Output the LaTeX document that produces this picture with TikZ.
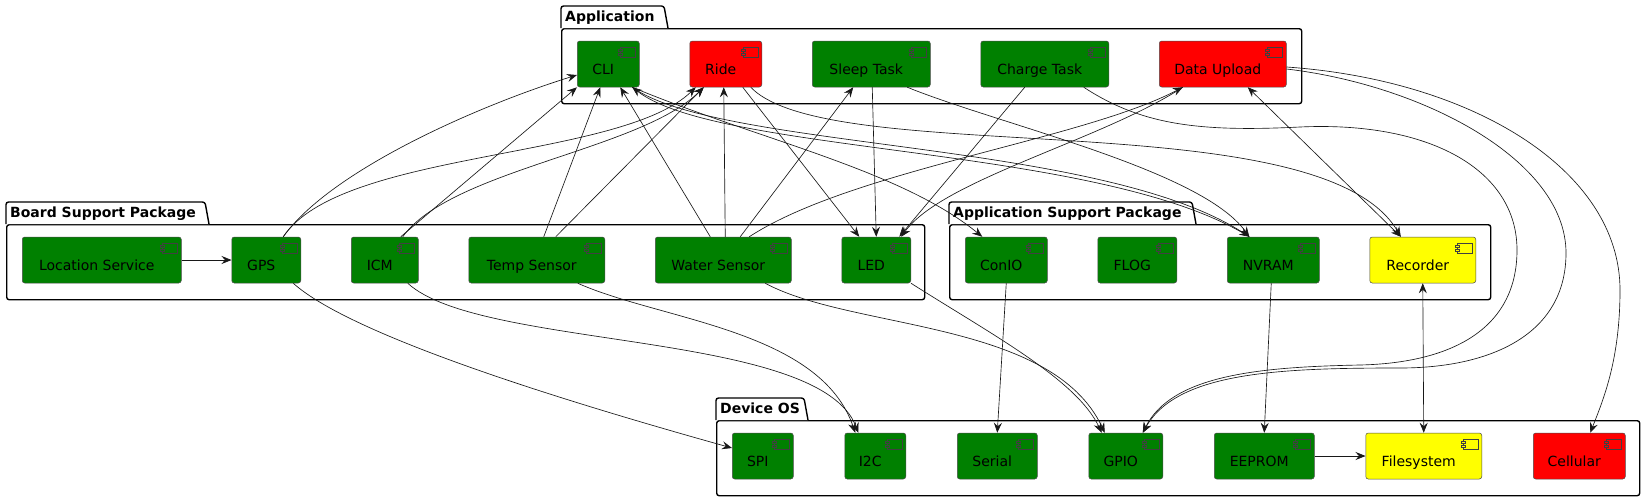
\documentclass[tikz,border=0pt]{standalone}
\usepackage{fontspec}
\setmainfont{DejaVu Sans}
\usepackage{xcolor}
\usetikzlibrary{positioning}
\usetikzlibrary{arrows.meta}

\definecolor{pgreen}{HTML}{008000}
\definecolor{pred}{HTML}{FF0000}
\definecolor{pyellow}{HTML}{FFFF00}
\definecolor{linec}{HTML}{181818}

\tikzset{
  comp/.style={draw=black!70, line width=0.5pt, rounded corners=2.5pt,
    minimum height=46pt, inner sep=0pt, text height=20pt, text depth=0pt,
    font=\fontsize{14}{16}\selectfont, execute at begin node=\hspace*{-10pt}},
  icon/.style={draw=black!75, line width=0.5pt},
  pkg/.style={draw=black, line width=1.4pt, rounded corners=2.5pt, fill=white,
    inner sep=0pt, anchor=north west},
  pkgtab/.style={draw=black, line width=1.4pt, rounded corners=2.5pt, fill=white},
  pkgtitle/.style={font=\bfseries\fontsize{14}{16}\selectfont, inner sep=0pt},
  link/.style={draw=linec, line width=0.65pt, -{Stealth[length=10pt,width=8pt,inset=3.5pt]}},
  dlink/.style={draw=linec, line width=0.65pt,
    {Stealth[length=10pt,width=8pt,inset=3.5pt]}-{Stealth[length=10pt,width=8pt,inset=3.5pt]}},
}

\begin{document}
\begin{tikzpicture}[x=1pt, y=-1pt]
\useasboundingbox (0,0) rectangle (1650,501);

% packages
\node (AppPkg) [pkg, minimum width=740pt, minimum height=75pt] at (561,28) {};
\node (BSPpkg) [pkg, minimum width=918pt, minimum height=75pt] at (6,224) {};
\node (ASPpkg) [pkg, minimum width=541pt, minimum height=75pt] at (949,224) {};
\node (OSPkg) [pkg, minimum width=923pt, minimum height=75pt] at (716,420) {};

\foreach \p/\w/\t in {AppPkg/107/Application, BSPpkg/203/Board Support Package,
    ASPpkg/247/Application Support Package, OSPkg/92/Device OS} {
  \draw[pkgtab] (\p.north west) -- ++(0,-22) -- ++(\w-4,0) -- ++(4,22);
  \node[pkgtitle, anchor=base west] at ([xshift=4pt,yshift=7pt]\p.north west) {\t};
}

% Application
\node (CLI) [comp, fill=pgreen, minimum width=62pt, anchor=west] at (577,64) {CLI};
\node (Ride) [comp, fill=pred, minimum width=72pt, right=50pt of CLI] {Ride};
\node (SleepTask) [comp, fill=pgreen, minimum width=118pt, right=50pt of Ride] {Sleep Task};
\node (ChargeTask) [comp, fill=pgreen, minimum width=128pt, right=50pt of SleepTask] {Charge Task};
\node (DataUpload) [comp, fill=pred, minimum width=127pt, right=50pt of ChargeTask] {Data Upload};

% Board Support Package
\node (LocSvc) [comp, fill=pgreen, minimum width=159pt, anchor=west] at (22,260) {Location Service};
\node (GPS) [comp, fill=pgreen, minimum width=69pt, right=50pt of LocSvc] {GPS};
\node (ICM) [comp, fill=pgreen, minimum width=67pt, right=50pt of GPS] {ICM};
\node (TempSensor) [comp, fill=pgreen, minimum width=136pt, right=50pt of ICM] {Temp Sensor};
\node (WaterSensor) [comp, fill=pgreen, minimum width=136pt, right=50pt of TempSensor] {Water Sensor};
\node (LED) [comp, fill=pgreen, minimum width=69pt, right=50pt of WaterSensor] {LED};

% Application Support Package
\node (ConIO) [comp, fill=pgreen, minimum width=82pt, anchor=west] at (965,260) {ConIO};
\node (FLOG) [comp, fill=pgreen, minimum width=79pt, right=50pt of ConIO] {FLOG};
\node (NVRAM) [comp, fill=pgreen, minimum width=92pt, right=50pt of FLOG] {NVRAM};
\node (Recorder) [comp, fill=pyellow, minimum width=106pt, right=50pt of NVRAM] {Recorder};

% Device OS
\node (SPI) [comp, fill=pgreen, minimum width=61pt, anchor=west] at (732,456) {SPI};
\node (I2C) [comp, fill=pgreen, minimum width=61pt, right=51pt of SPI] {I2C};
\node (Serial) [comp, fill=pgreen, minimum width=80pt, right=51pt of I2C] {Serial};
\node (GPIO) [comp, fill=pgreen, minimum width=74pt, right=51pt of Serial] {GPIO};
\node (EEPROM) [comp, fill=pgreen, minimum width=100pt, right=51pt of GPIO] {EEPROM};
\node (Filesystem) [comp, fill=pyellow, minimum width=116pt, right=51pt of EEPROM] {Filesystem};
\node (Cellular) [comp, fill=pred, minimum width=92pt, right=51pt of Filesystem] {Cellular};

% component icons
\foreach \n/\c in {CLI/pgreen, Ride/pred, SleepTask/pgreen, ChargeTask/pgreen, DataUpload/pred,
    LocSvc/pgreen, GPS/pgreen, ICM/pgreen, TempSensor/pgreen, WaterSensor/pgreen, LED/pgreen,
    ConIO/pgreen, FLOG/pgreen, NVRAM/pgreen, Recorder/pyellow,
    SPI/pgreen, I2C/pgreen, Serial/pgreen, GPIO/pgreen, EEPROM/pgreen, Filesystem/pyellow, Cellular/pred} {
  \draw[icon, fill=\c] ([xshift=-19pt,yshift=-6pt]\n.north east) rectangle ++(15,10);
  \draw[icon, fill=\c] ([xshift=-21pt,yshift=-8.5pt]\n.north east) rectangle ++(4,2);
  \draw[icon, fill=\c] ([xshift=-21pt,yshift=-12pt]\n.north east) rectangle ++(4,2);
}

% BSP -> Application
\draw[link] (LocSvc.east) -- (GPS.west);
\draw[link] ([xshift=17pt]GPS.north) .. controls +(48,-67) and +(-97,30) .. ([yshift=-11pt]CLI.west);
\draw[link] ([xshift=17pt]GPS.north) .. controls +(58,-87) and +(-75,73) .. ([xshift=-30pt]Ride.south);
\draw[link] ([xshift=16pt]ICM.north) -- (CLI.south west);
\draw[link] ([xshift=18pt]ICM.north) .. controls +(48,-67) and +(-63,63) .. ([xshift=-22pt]Ride.south);
\draw[link] ([xshift=7pt]TempSensor.north) -- ([xshift=-8pt]CLI.south);
\draw[link] ([xshift=19pt]TempSensor.north) -- ([xshift=-22pt]Ride.south);
\draw[link] ([xshift=-13pt]WaterSensor.north) -- ([xshift=12pt]CLI.south);
\draw[link] ([xshift=2pt]WaterSensor.north) -- ([xshift=-2pt]Ride.south);
\draw[link] ([xshift=17pt]WaterSensor.north) -- ([xshift=-18pt]SleepTask.south);
\draw[link] ([xshift=26pt]WaterSensor.north) .. controls +(103,-67) and +(-101,53) .. ([xshift=-40pt]DataUpload.south);

% Application -> BSP / ASP
\draw[link] ([xshift=17pt]Ride.south) -- ([xshift=-17pt]LED.north);
\draw[link] ([xshift=1pt]SleepTask.south) -- (LED.north);
\draw[link] ([xshift=-20pt]ChargeTask.south) -- ([xshift=23pt]LED.north);
\draw[link] ([xshift=-40pt]DataUpload.south) .. controls +(-81,53) and +(41,-57) .. ([xshift=25pt]LED.north);
\draw[link] ([xshift=25pt]Ride.south) .. controls +(80,83) and +(-79,-137) .. ([xshift=-22pt]Recorder.north);
\draw[link] ([xshift=24pt]CLI.south) .. controls +(88,63) and +(-148,-97) .. ([xshift=-24pt]NVRAM.north);
\draw[link] ([xshift=-24pt]NVRAM.north) .. controls +(-148,-92) and +(88,68) .. ([xshift=24pt]CLI.south);
\draw[link] ([xshift=24pt]CLI.south) .. controls +(128,53) and +(-82,-67) .. ([xshift=-24pt]ConIO.north);
\draw[link] ([xshift=36pt]SleepTask.south) .. controls +(94,38) and +(-48,-67) .. ([xshift=-24pt]NVRAM.north);
\draw[dlink] ([xshift=25pt]DataUpload.south) -- ([xshift=-22pt]Recorder.north);

% Application -> Device OS
\draw[link] ([xshift=39pt]ChargeTask.south) .. controls +(58,38) and (1200,132) .. (1300,127)
  .. controls (1430,121) and (1517,170) .. (1517,250)
  .. controls (1517,330) and (1450,363) .. (1360,365)
  .. controls (1260,367) and +(29,-58) .. ([xshift=17pt]GPIO.north);
\draw[link] ([yshift=-5pt]DataUpload.east) .. controls +(136,16) and (1566,160) .. (1566,253)
  .. controls (1566,335) and (1490,368) .. (1400,368)
  .. controls (1280,368) and +(34,-61) .. ([xshift=17pt]GPIO.north);
\draw[link] ([yshift=-3pt]DataUpload.east) .. controls +(186,13) and (1620,170) .. (1620,290)
  .. controls (1620,360) and +(13,-33) .. ([xshift=11pt]Cellular.north);

% BSP / ASP -> Device OS
\draw[link] ([xshift=27pt]GPS.south) .. controls +(58,52) and +(-172,-48) .. ([yshift=8pt]SPI.west);
\draw[link] ([xshift=23pt]ICM.south) .. controls +(73,67) and +(-38,-103) .. ([xshift=-17pt]I2C.north);
\draw[link] ([xshift=41pt]TempSensor.south) .. controls +(83,37) and +(-35,-103) .. ([xshift=-20pt]I2C.north);
\draw[link] ([xshift=42pt]WaterSensor.south) .. controls +(87,47) and +(-53,-113) .. ([xshift=-21pt]GPIO.north);
\draw[link] (LED.south east) .. controls +(82,52) and +(-25,-53) .. ([xshift=-24pt]GPIO.north);
\draw[link] (ConIO.south) -- (Serial.north);
\draw[link] ([xshift=-2pt]NVRAM.south) -- (EEPROM.north);
\draw[dlink] (Recorder.south) -- (Filesystem.north);
\draw[link] (EEPROM.east) -- (Filesystem.west);

\end{tikzpicture}
\end{document}
